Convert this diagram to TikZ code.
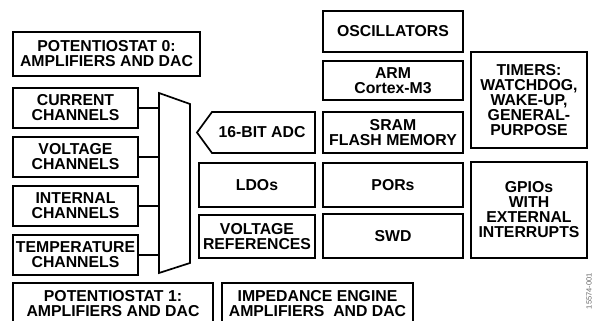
\documentclass[tikz,border=0pt]{standalone}
\usepackage{fontspec}
\setmainfont{Liberation Sans}
\begin{document}
\begin{tikzpicture}[x=1pt,y=-1pt,
  blk/.style={draw=black, line width=1.7pt, inner sep=0pt, align=center,
    font=\fontsize{15.8}{15}\selectfont\bfseries},
  wire/.style={draw=black, line width=1.7pt},
  lbl/.style={inner sep=0pt, align=center, font=\fontsize{15.8}{15}\selectfont\bfseries}]
\useasboundingbox (0,0) rectangle (595,321);
\clip (0,0) rectangle (595,321);
% left column
\node[blk, minimum width=187pt, minimum height=44pt] (pot0) at (106.5,54) {POTENTIOSTAT 0:\\AMPLIFIERS AND DAC};
\node[blk, minimum width=125pt, minimum height=40pt] (cur) at (75.5,108) {CURRENT\\CHANNELS};
\node[blk, minimum width=125pt, minimum height=40pt] (volt) at (75.5,157) {VOLTAGE\\CHANNELS};
\node[blk, minimum width=125pt, minimum height=40pt] (int) at (75.5,206) {INTERNAL\\CHANNELS};
\node[blk, minimum width=125pt, minimum height=40pt] (temp) at (75.5,255) {TEMPERATURE\\CHANNELS};
% mux
\draw[wire, line join=miter] (159,93) -- (190,104) -- (190,263) -- (159,273) -- cycle;
\coordinate (m1) at (159,108);
\coordinate (m2) at (159,157);
\coordinate (m3) at (159,206);
\coordinate (m4) at (159,255);
\draw[wire] (cur.east) -- (m1);
\draw[wire] (volt.east) -- (m2);
\draw[wire] (int.east) -- (m3);
\draw[wire] (temp.east) -- (m4);
% ADC
\draw[wire, line join=miter] (197,132.5) -- (212,112) -- (315,112) -- (315,153) -- (212,153) -- cycle;
\node[lbl] (adc) at (262,132.5) {16-BIT ADC};
\node[blk, minimum width=116pt, minimum height=44pt] (ldo) at (257,185) {LDOs};
\node[blk, minimum width=116pt, minimum height=43pt] (vref) at (257,236.5) {VOLTAGE\\REFERENCES};
% middle-right column
\node[blk, minimum width=140pt, minimum height=41pt] (osc) at (393,31.5) {OSCILLATORS};
\node[blk, minimum width=140pt, minimum height=39pt] (arm) at (393,80.5) {ARM\\Cortex-M3};
\node[blk, minimum width=140pt, minimum height=41pt] (sram) at (393,132.5) {SRAM\\FLASH MEMORY};
\node[blk, minimum width=140pt, minimum height=44pt] (por) at (393,185) {PORs};
\node[blk, minimum width=140pt, minimum height=44pt] (swd) at (393,236) {SWD};
% right column
\node[blk, minimum width=116pt, minimum height=96pt] (tim) at (529,100) {TIMERS:\\WATCHDOG,\\WAKE-UP,\\GENERAL-\\PURPOSE};
\node[blk, minimum width=116pt, minimum height=96pt] (gpio) at (529,210) {GPIOs\\WITH\\EXTERNAL\\INTERRUPTS};
% bottom
\node[blk, minimum width=200pt, minimum height=41pt] (pot1) at (113,303.5) {POTENTIOSTAT 1:\\AMPLIFIERS AND DAC};
\node[blk, minimum width=191pt, minimum height=41pt] (imp) at (317.5,303.5) {IMPEDANCE ENGINE\\AMPLIFIERS\ \ AND DAC};
% figure id
\node[inner sep=0pt, rotate=90, anchor=east, text=black!60, font=\fontsize{7.5}{8}\selectfont] (fid) at (589,273) {15574-001};
\end{tikzpicture}
\end{document}
